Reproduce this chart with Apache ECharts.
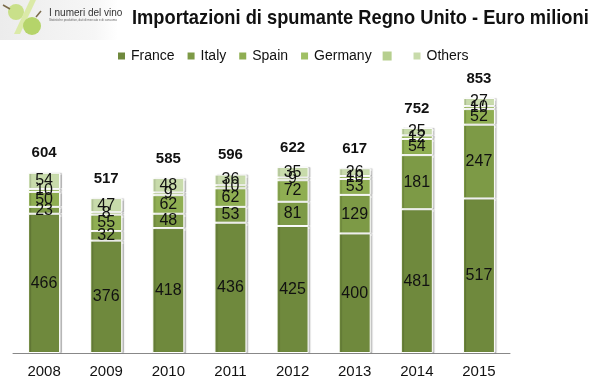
<!DOCTYPE html>
<html><head><meta charset="utf-8">
<script src="https://cdn.jsdelivr.net/npm/echarts@6/dist/echarts.min.js"></script>
<style>html,body{margin:0;padding:0;background:#fff}#c{width:593px;height:389px}</style>
</head><body><div id="c"></div>
<script>
var years = ['2008','2009','2010','2011','2012','2013','2014','2015'];
var france  = [466,376,418,436,425,400,481,517];
var italy   = [23,32,48,53,81,129,181,247];
var spain   = [50,55,62,62,72,53,54,52];
var germany = [10,8,9,10,9,10,12,10];
var others  = [54,47,48,36,35,26,25,27];
var totals  = [604,517,585,596,622,617,752,853];
var seriesNames = ['France','Italy','Spain','Germany',' ','Others'];
var titleText = 'Importazioni di spumante Regno Unito - Euro milioni';
var colors = ['#6f893d','#7d9a46','#8fae52','#a0c064','#b6cf8e','#c8dbab'];

var chart = echarts.init(document.getElementById('c'));
var segLabel = {show:true, position:'inside', color:'#111', fontSize:16, fontFamily:'Liberation Sans, Arial, sans-serif', lineHeight:15};
function mk(name, data, color){
  return {name:name, type:'bar', stack:'t', data:data, barWidth:32,
    itemStyle:{color:color, borderColor:'#fff', borderWidth:1, shadowColor:'rgba(0,0,0,0.18)', shadowOffsetX:2, shadowBlur:1},
    label:segLabel, emphasis:{disabled:true}};
}
var series = [
  mk('France', france, colors[0]),
  mk('Italy', italy, colors[1]),
  mk('Spain', spain, colors[2]),
  mk('Germany', germany, colors[3]),
  {name:' ', type:'bar', stack:'t', data:[], itemStyle:{color:colors[4]}},
  mk('Others', others, colors[5]),
  {name:'Totale', type:'bar', stack:'t', data:totals.map(function(){return 0;}), barWidth:32,
    itemStyle:{color:'transparent'},
    label:{show:true, position:'top', distance:12, fontSize:15, fontWeight:'bold', color:'#111', fontFamily:'Liberation Sans, Arial, sans-serif',
      formatter:function(p){return totals[p.dataIndex];}}}
];
chart.setOption({
  animation:false,
  color:colors,
  legend:{data:seriesNames, left:116, top:49, padding:0, itemWidth:9, itemHeight:9, itemGap:11, icon:'rect',
    textStyle:{fontSize:14, color:'#111', fontFamily:'Liberation Sans, Arial, sans-serif'}},
  grid:{left:13, right:83, top:84, bottom:36},
  xAxis:{type:'category', data:years, axisTick:{show:false},
    axisLine:{lineStyle:{color:'#888', width:1}},
    axisLabel:{fontSize:15, color:'#111', margin:11, fontFamily:'Liberation Sans, Arial, sans-serif'}},
  yAxis:{type:'value', min:0, max:900, show:false, splitLine:{show:false}},
  graphic:[
    {type:'rect', shape:{x:0,y:0,width:118,height:40}, style:{fill:{type:'linear',x:0,y:0,x2:1,y2:0,colorStops:[{offset:0,color:'#ececec'},{offset:0.8,color:'#f6f6f6'},{offset:1,color:'#ffffff'}]}}},
    {type:'circle', shape:{cx:16, cy:12, r:8}, style:{fill:'#c9e08a'}},
    {type:'line', shape:{x1:3,y1:5,x2:10,y2:9}, style:{stroke:'#7a6a4a', lineWidth:1.5}},
    {type:'polygon', shape:{points:[[30,0],[36,0],[20,34],[14,34]]}, style:{fill:'#dbeaa8'}},
    {type:'circle', shape:{cx:32, cy:26, r:9}, style:{fill:'#b5d46a'}},
    {type:'line', shape:{x1:36,y1:17,x2:41,y2:11}, style:{stroke:'#7a6a4a', lineWidth:1.5}},
    {type:'text', left:49, top:8, style:{text:'I numeri del vino', fontSize:10, fill:'#333', fontFamily:'Liberation Sans, Arial, sans-serif'}},
    {type:'text', left:49, top:19, style:{text:'Statistiche produttive, dati di mercato e di consumo', fontSize:3, fill:'#666', fontFamily:'Liberation Sans, Arial, sans-serif'}},
    {type:'text', x:132, y:8, scaleX:0.87, style:{text:titleText, fontSize:21, fontWeight:'bold', fill:'#111', fontFamily:'Liberation Sans, Arial, sans-serif'}}
  ],
  series:series
});
</script></body></html>
